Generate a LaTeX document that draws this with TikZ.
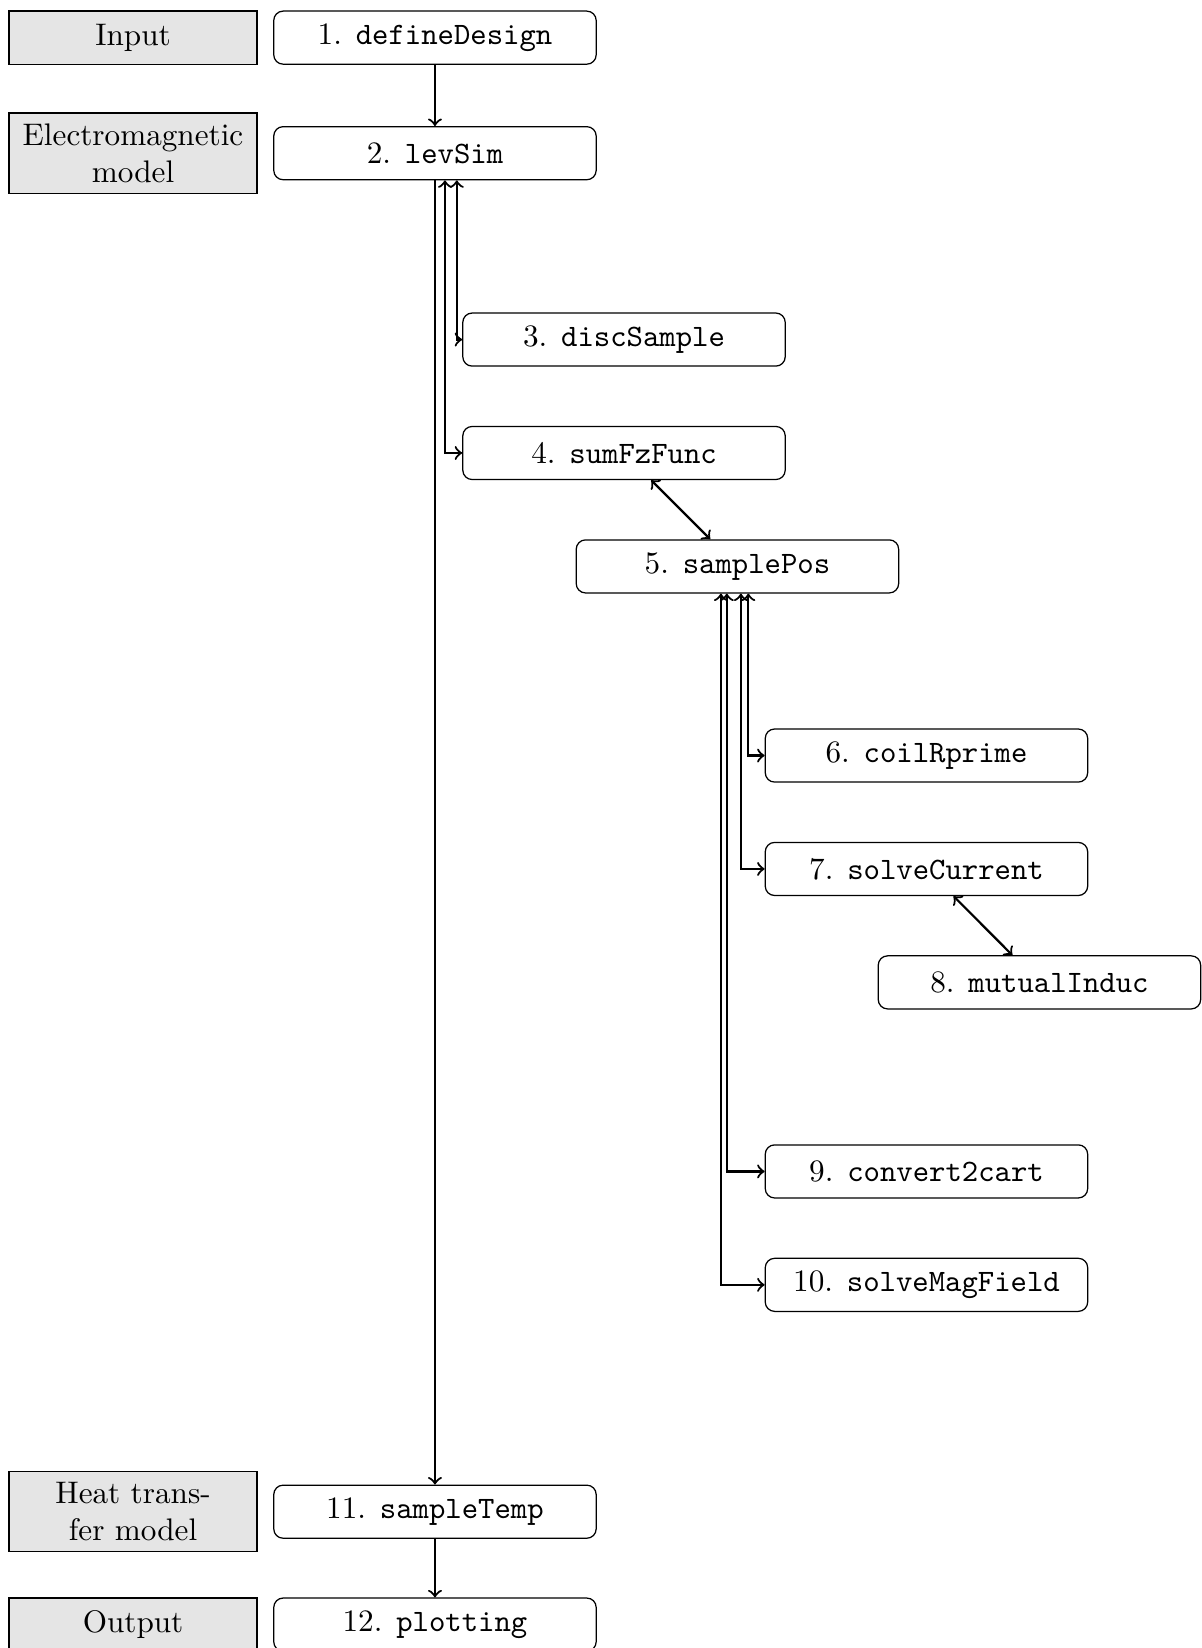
\documentclass[tikz,border=0pt]{standalone}
\usepackage{amsmath}
\usepackage{xcolor}
\usepackage{tikz}
\usetikzlibrary{positioning, calc}

\begin{document}
\begin{tikzpicture}[
  >=to,
  on grid,
  every node/.style={font=\normalsize, align=center},
  fn/.style={draw, thin, rounded corners=3pt, minimum width=3.633cm, minimum height=0.598cm},
  stage/.style={draw, thin, fill=gray!20, text width=2.56cm, minimum height=0.598cm},
  link/.style={line width=0.7pt},
]
% Main column
\node[fn] (define) {1. \texttt{defineDesign}};
\node[fn, below=1.302cm of define] (levsim) {2. \texttt{levSim}};

% Subroutines of levSim
\node[fn, below right=2.100cm and 2.130cm of levsim] (disc) {3. \texttt{discSample}};
\node[fn, below=1.278cm of disc] (sumfz) {4. \texttt{sumFzFunc}};
\node[fn, below right=1.278cm and 1.278cm of sumfz] (samplepos) {5. \texttt{samplePos}};

% Subroutines of samplePos
\node[fn, below right=2.131cm and 2.130cm of samplepos] (coil) {6. \texttt{coilRprime}};
\node[fn, below=1.278cm of coil] (current) {7. \texttt{solveCurrent}};
\node[fn, below right=1.278cm and 1.273cm of current] (mutual) {8. \texttt{mutualInduc}};
\node[fn, below=3.408cm of current] (cart) {9. \texttt{convert2cart}};
\node[fn, below=1.278cm of cart] (magfield) {10. \texttt{solveMagField}};

% Heat transfer and output
\node[fn, below=15.307cm of levsim] (temp) {11. \texttt{sampleTemp}};
\node[fn, below=1.272cm of temp] (plot) {12. \texttt{plotting}};

% Stage labels on the left
\node[stage, left=3.402cm of define] (input) {Input};
\node[stage, left=3.402cm of levsim] (emmodel) {Electromagnetic model};
\node[stage, left=3.402cm of temp] (heatmodel) {Heat trans-\\fer model};
\node[stage, left=3.402cm of plot] (output) {Output};

% Edges
\draw[link, ->] (define) -- (levsim);
\draw[link, ->] (levsim) -- (temp);
\draw[link, <->] ([xshift=7pt]levsim.south) |- (disc.west);
\draw[link, <->] ([xshift=3.2pt]levsim.south) |- (sumfz.west);
\draw[link, <->] (sumfz) -- (samplepos);
\draw[link, <->] ([xshift=3.5pt]samplepos.south) |- (coil.west);
\draw[link, <->] ([xshift=1.1pt]samplepos.south) |- (current.west);
\draw[link, <->] (current) -- (mutual);
\draw[link, <->] ([xshift=-3.4pt]samplepos.south) |- (cart.west);
\draw[link, <->] ([xshift=-5.3pt]samplepos.south) |- (magfield.west);
\draw[link, ->] (temp) -- (plot);

% page frame, the last row runs off the bottom
\pgfresetboundingbox
\useasboundingbox ([xshift=-0.095cm, yshift=0.118cm]input.north west)
  rectangle ($(mutual.east |- plot.south)+(0.2pt,0.042cm)$);
\end{tikzpicture}
\end{document}
